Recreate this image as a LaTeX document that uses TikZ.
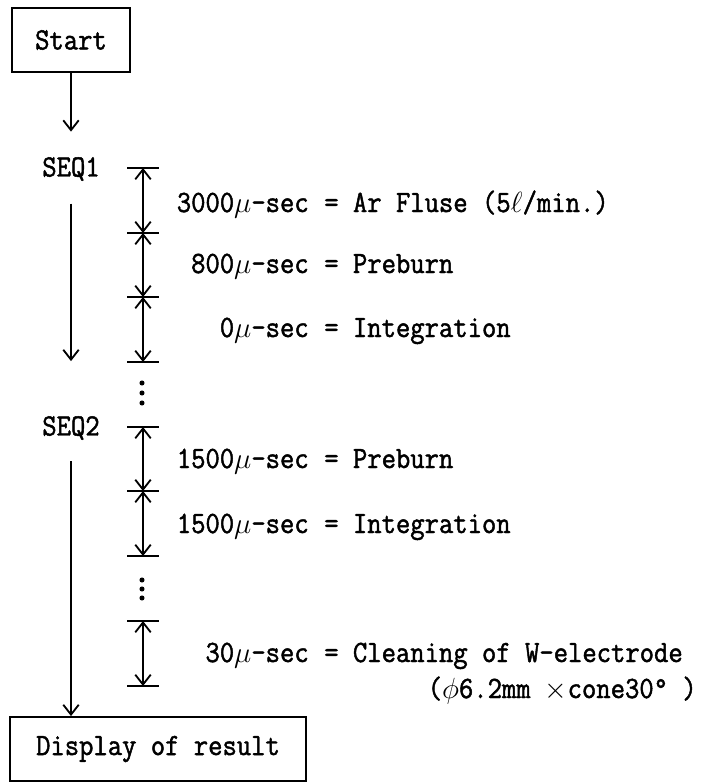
\documentclass[tikz,border=0pt]{standalone}
\usepackage{fontspec}
\usepackage{tikz}
\usetikzlibrary{arrows.meta}
\newfontfamily\typefont[FakeStretch=0.9,FakeBold=1.5]{Latin Modern Mono}

\tikzset{
txt/.style={font={\typefont\fontsize{22}{26}\selectfont},inner sep=0pt},
box/.style={txt,draw,line width=1.3pt},
flow/.style={-{Straight Barb[length=7pt,width=11pt]},line width=1.3pt},
dim/.style={{Straight Barb[length=7pt,width=11pt]}-{Straight Barb[length=7pt,width=11pt]},line width=1.3pt},
tick/.style={line width=1.3pt}
}

\begin{document}
\begin{tikzpicture}[x=0.025cm,y=-0.025cm]
\useasboundingbox (0,0) rectangle (703,782);
\node[box,minimum width=2.95cm,minimum height=1.6cm] at (71,40) (start){Start};
\node[txt] at (71,169) (seq1){SEQ1};
\node[txt] at (71,428) (seq2){SEQ2};
\node[box,minimum width=7.4cm,minimum height=1.6cm] at (158,749) (disp){Display of result};
\draw[flow,shorten >=18pt] (start) -- (seq1);
\draw[flow,shorten <=16pt,shorten >=39pt] (seq1) -- (seq2);
\draw[flow,shorten <=15pt] (seq2) -- (seq2 |- disp.north);
\foreach \n/\y in {t1/168,t2/233,t3/297,t4/362,t5/427,t6/491,t7/556,t8/621,t9/686}{
\coordinate (\n) at (143,\y);
\draw[tick] (\n) +(-16,0) -- +(16,0);
}
\foreach \a/\b in {t1/t2,t2/t3,t3/t4,t5/t6,t6/t7,t8/t9}{
\draw[dim] (\a) -- (\b);
}
\foreach \y in {383,393,403,580,589,598}{
\fill (142,\y) circle (1.8pt);
}
\node[txt,anchor=base east] at (309,212) (v1){3000$\mu$-sec};
\node[txt,anchor=base west] at (324,212) (d1){= Ar Fluse (5$\ell$/min.)};
\node[txt,anchor=base east] at (309,273) (v2){800$\mu$-sec};
\node[txt,anchor=base west] at (324,273) (d2){= Preburn};
\node[txt,anchor=base east] at (309,337) (v3){0$\mu$-sec};
\node[txt,anchor=base west] at (324,337) (d3){= Integration};
\node[txt,anchor=base east] at (309,468) (v4){1500$\mu$-sec};
\node[txt,anchor=base west] at (324,468) (d4){= Preburn};
\node[txt,anchor=base east] at (309,533) (v5){1500$\mu$-sec};
\node[txt,anchor=base west] at (324,533) (d5){= Integration};
\node[txt,anchor=base east] at (309,662) (v6){30$\mu$-sec};
\node[txt,anchor=base west] at (324,662) (d6){= Cleaning of W-electrode};
\node[txt,anchor=base east] at (697,698) (d7){($\phi$6.2mm $\times$cone30° )};
\end{tikzpicture}
\end{document}
